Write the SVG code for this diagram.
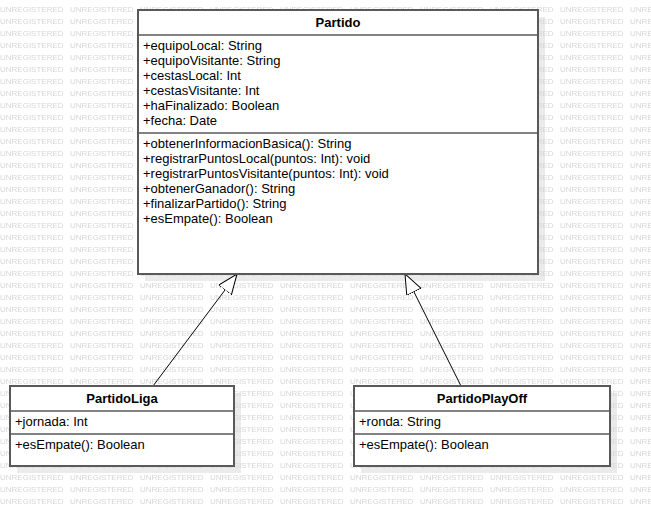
<svg xmlns="http://www.w3.org/2000/svg" width="651" height="506" viewBox="0 0 651 506">
<defs>
<style>
.wm{font-family:"Liberation Sans",Arial,sans-serif;font-size:8px;fill:#d6d6d6}
.box{fill:#fff;stroke:#595959;stroke-width:2}
.sh{fill:#ebebeb}
.sep{stroke:#595959;stroke-width:1.5}
.t{font-family:"Liberation Sans",Arial,sans-serif;font-size:13px;fill:#000}
.b{font-weight:bold;text-anchor:middle}
.edge{stroke:#000;stroke-width:1;fill:none}
</style>
<pattern id="wmp" patternUnits="userSpaceOnUse" x="0" y="3" width="70" height="12">
<text class="wm" x="0" y="9">UNREGISTERED</text>
</pattern>
<marker id="gen" markerUnits="userSpaceOnUse" markerWidth="24" markerHeight="20" refX="20" refY="8" orient="auto">
<path d="M0,0 L20,8 L0,16 Z" fill="#fff" stroke="#000" stroke-width="1"/>
</marker>
</defs>
<rect width="651" height="506" fill="#fff"/>
<g id="shadows">
<rect class="sh" x="145" y="17" width="400" height="264"/>
<rect class="sh" x="17" y="393" width="224" height="80"/>
<rect class="sh" x="361" y="393" width="256" height="80"/>
</g>
<rect width="651" height="506" fill="url(#wmp)"/>
<g id="connectors">
<line class="edge" x1="153" y1="386" x2="237" y2="274" marker-end="url(#gen)"/>
<line class="edge" x1="461" y1="386" x2="405" y2="274" marker-end="url(#gen)"/>
</g>
<g id="Partido">
<rect class="box" x="138" y="10" width="400" height="264"/>
<line class="sep" x1="138" y1="35" x2="538" y2="35"/>
<line class="sep" x1="138" y1="133" x2="538" y2="133"/>
<text class="t b" x="338" y="27">Partido</text>
<text class="t" x="143" y="50">+equipoLocal: String</text>
<text class="t" x="143" y="65">+equipoVisitante: String</text>
<text class="t" x="143" y="80">+cestasLocal: Int</text>
<text class="t" x="143" y="95">+cestasVisitante: Int</text>
<text class="t" x="143" y="110">+haFinalizado: Boolean</text>
<text class="t" x="143" y="125">+fecha: Date</text>
<text class="t" x="143" y="148">+obtenerInformacionBasica(): String</text>
<text class="t" x="143" y="163">+registrarPuntosLocal(puntos: Int): void</text>
<text class="t" x="143" y="178">+registrarPuntosVisitante(puntos: Int): void</text>
<text class="t" x="143" y="193">+obtenerGanador(): String</text>
<text class="t" x="143" y="208">+finalizarPartido(): String</text>
<text class="t" x="143" y="223">+esEmpate(): Boolean</text>
</g>
<g id="PartidoLiga">
<rect class="box" x="10" y="386" width="224" height="80"/>
<line class="sep" x1="10" y1="411" x2="234" y2="411"/>
<line class="sep" x1="10" y1="434" x2="234" y2="434"/>
<text class="t b" x="122" y="403">PartidoLiga</text>
<text class="t" x="15" y="426">+jornada: Int</text>
<text class="t" x="15" y="449">+esEmpate(): Boolean</text>
</g>
<g id="PartidoPlayOff">
<rect class="box" x="354" y="386" width="256" height="80"/>
<line class="sep" x1="354" y1="411" x2="610" y2="411"/>
<line class="sep" x1="354" y1="434" x2="610" y2="434"/>
<text class="t b" x="482" y="403">PartidoPlayOff</text>
<text class="t" x="359" y="426">+ronda: String</text>
<text class="t" x="359" y="449">+esEmpate(): Boolean</text>
</g>
</svg>
